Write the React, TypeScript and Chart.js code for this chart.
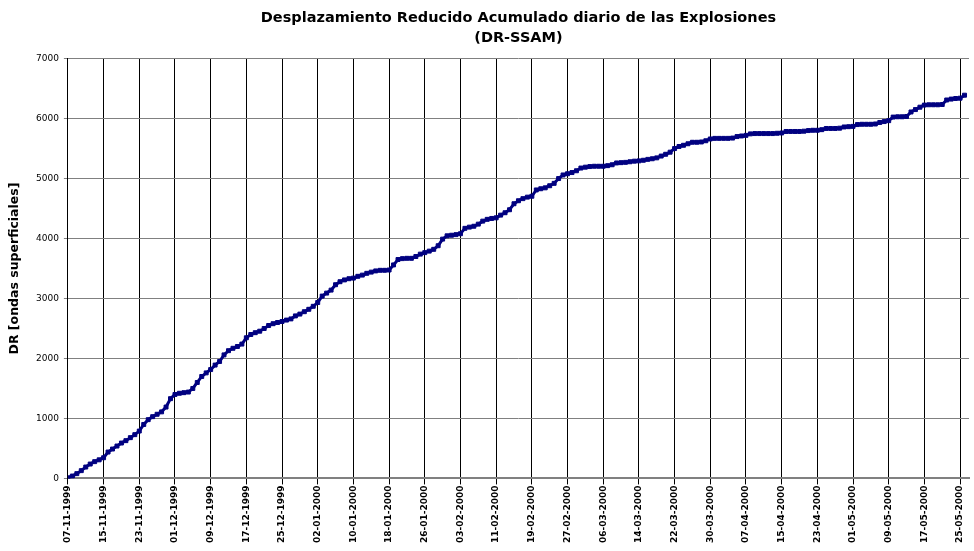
import React, { useEffect, useRef } from "react";
import { Chart, registerables } from "chart.js";

Chart.register(...registerables);

const chartTitle = [
  "Desplazamiento Reducido Acumulado diario de las Explosiones",
  "(DR-SSAM)",
];
const yAxisTitle = "DR [ondas superficiales]";

// tick labels every 8 days, starting 07-11-1999 (day 0)
const tickLabels = [
  "07-11-1999", "15-11-1999", "23-11-1999", "01-12-1999", "09-12-1999",
  "17-12-1999", "25-12-1999", "02-01-2000", "10-01-2000", "18-01-2000",
  "26-01-2000", "03-02-2000", "11-02-2000", "19-02-2000", "27-02-2000",
  "06-03-2000", "14-03-2000", "22-03-2000", "30-03-2000", "07-04-2000",
  "15-04-2000", "23-04-2000", "01-05-2000", "09-05-2000", "17-05-2000",
  "25-05-2000",
];
const tickStepDays = 8;

// cumulative daily DR, one value per day from 07-11-1999 to 26-05-2000
const drValues = [
  10, 40, 80, 130, 190, 240, 280, 310,
  345, 440, 490, 540, 590, 630, 680, 730,
  790, 900, 980, 1030, 1070, 1110, 1190, 1330,
  1400, 1420, 1430, 1440, 1500, 1600, 1700, 1760,
  1815, 1890, 1950, 2060, 2130, 2170, 2200, 2240,
  2345, 2400, 2430, 2455, 2500, 2550, 2580, 2600,
  2617, 2640, 2660, 2710, 2740, 2780, 2820, 2870,
  2933, 3040, 3090, 3140, 3230, 3280, 3310, 3330,
  3340, 3370, 3390, 3420, 3440, 3460, 3470, 3470,
  3475, 3560, 3650, 3665, 3670, 3670, 3700, 3740,
  3765, 3790, 3820, 3880, 3990, 4045, 4055, 4065,
  4080, 4170, 4190, 4205, 4240, 4290, 4320, 4335,
  4345, 4390, 4430, 4480, 4580, 4630, 4665, 4690,
  4705, 4810, 4830, 4845, 4880, 4920, 5000, 5060,
  5080, 5100, 5130, 5175, 5190, 5200, 5205, 5205,
  5205, 5215, 5230, 5260, 5265, 5270, 5280, 5290,
  5295, 5305, 5320, 5330, 5345, 5375, 5405, 5440,
  5500, 5535, 5555, 5580, 5605, 5605, 5610, 5630,
  5660, 5670, 5670, 5670, 5670, 5675, 5700, 5710,
  5720, 5745, 5750, 5750, 5750, 5750, 5750, 5755,
  5760, 5785, 5785, 5785, 5785, 5790, 5800, 5805,
  5805, 5815, 5835, 5835, 5835, 5840, 5860, 5865,
  5870, 5900, 5905, 5905, 5905, 5910, 5935, 5950,
  5965, 6025, 6030, 6030, 6035, 6110, 6150, 6190,
  6225, 6230, 6230, 6230, 6235, 6310, 6325, 6335,
  6340, 6390,
];

const yMin = 0;
const yMax = 7000;
const yStep = 1000;
const xMaxDay = 202;

export default function App() {
  const canvasRef = useRef<HTMLCanvasElement | null>(null);

  useEffect(() => {
    document.body.style.margin = "0";
    if (!canvasRef.current) return;
    Chart.defaults.font.family = "'DejaVu Sans', sans-serif";
    Chart.defaults.color = "#000";

    const points = drValues.map((v, i) => ({ x: i, y: v }));

    const chart = new Chart(canvasRef.current, {
      type: "line",
      data: {
        datasets: [
          {
            data: points,
            borderColor: "#000080",
            backgroundColor: "#000080",
            borderWidth: 3,
            pointStyle: "rect",
            pointRadius: 2.8,
            pointBorderWidth: 1,
            tension: 0,
          },
        ],
      },
      options: {
        responsive: false,
        animation: false,
        layout: { padding: { left: 7, right: 0, top: 0, bottom: 7 } },
        plugins: {
          legend: { display: false },
          tooltip: { enabled: false },
          title: {
            display: true,
            fullSize: false,
            text: chartTitle,
            color: "#000",
            font: { size: 14.5, weight: "bold", lineHeight: 1.4 },
            padding: { top: 8, bottom: 10 },
          },
        },
        scales: {
          x: {
            type: "linear",
            min: 0,
            max: xMaxDay,
            afterBuildTicks: (axis: any) => {
              axis.ticks = tickLabels.map((_, i) => ({ value: i * tickStepDays }));
            },
            ticks: {
              autoSkip: false,
              minRotation: 90,
              maxRotation: 90,
              padding: 1,
              color: "#000",
              font: { size: 9, weight: "bold" },
              callback: (v: any) => tickLabels[Math.round(Number(v) / tickStepDays)] ?? "",
            },
            grid: { color: "#000", lineWidth: 1, tickLength: 6 },
            border: { color: "#808080", width: 2 },
          },
          y: {
            min: yMin,
            max: yMax,
            ticks: {
              stepSize: yStep,
              color: "#000",
              font: { size: 9 },
              padding: 5,
              callback: (v: any) => String(v),
            },
            grid: { color: "#808080", lineWidth: 1, tickLength: 4 },
            border: { color: "#000", width: 1 },
            title: {
              display: true,
              text: yAxisTitle,
              color: "#000",
              font: { size: 12.5, weight: "bold" },
              padding: { top: 0, bottom: 9 },
            },
          },
        },
      },
    });
    return () => chart.destroy();
  }, []);

  return (
    <div style={{ width: 974, height: 551 }}>
      <canvas ref={canvasRef} width={974} height={551} style={{ display: "block" }} />
    </div>
  );
}
